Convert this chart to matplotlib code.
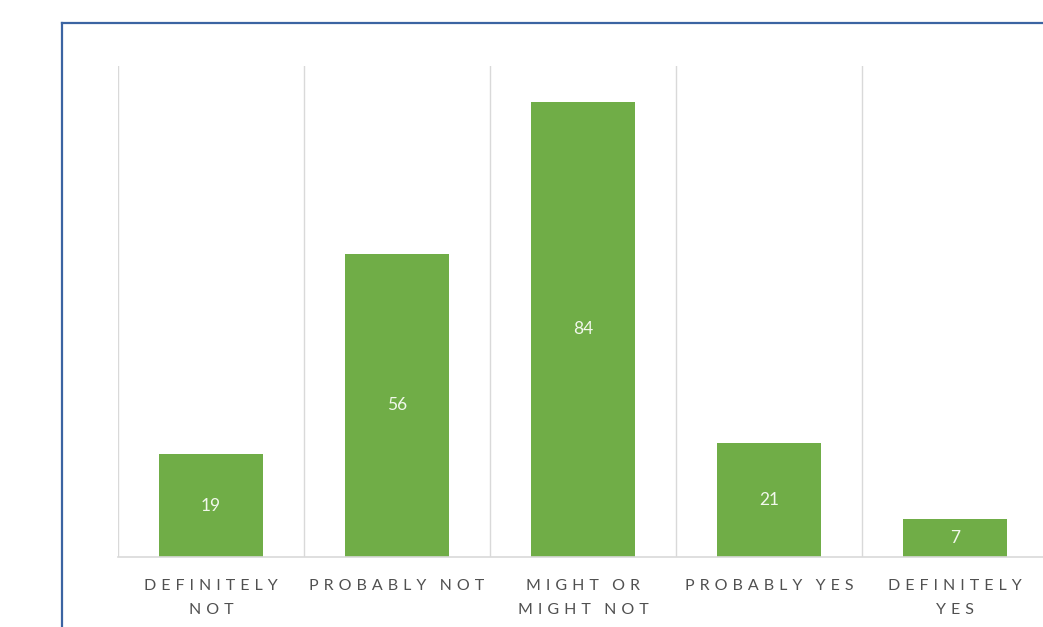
import matplotlib.pyplot as plt
from matplotlib.lines import Line2D

# survey responses
categories = ["DEFINITELY\nNOT", "PROBABLY NOT", "MIGHT OR\nMIGHT NOT",
              "PROBABLY YES", "DEFINITELY\nYES"]
counts = [19, 56, 84, 21, 7]

green = "#70ad47"
grid = "#d9d9d9"
label_grey = "#505050"
GAP = "\u2009\u2009\u200a"


def spaced(label):
    # wide letter spacing for the category labels
    lines = []
    for line in label.split("\n"):
        words = [GAP.join(w) for w in line.split(" ")]
        lines.append((GAP + "  ").join(words))
    return "\n".join(lines)


plt.rcParams["font.family"] = ["Lato", "DejaVu Sans"]

fig = plt.figure(figsize=(10.43, 6.27), dpi=100)
ax = fig.add_axes([0.1131, 0.1116, 0.8917, 0.7831])

x = range(len(categories))
bars = ax.bar(x, counts, width=0.56, color=green, zorder=2)

for b, v in zip(bars, counts):
    ax.text(b.get_x() + b.get_width() / 2, v / 2, str(v),
            ha="center", va="center", color="#f2f8ec", fontsize=12.5)

ax.set_xlim(-0.5, len(categories) - 0.5)
ax.set_ylim(0, 90.6)
ax.set_yticks([])

# vertical separators between categories
for i in range(len(categories) + 1):
    ax.axvline(i - 0.5, color=grid, linewidth=1, zorder=1)

for side in ["top", "right", "left"]:
    ax.spines[side].set_visible(False)
ax.spines["bottom"].set_color(grid)
ax.spines["bottom"].set_linewidth(1.2)

ax.set_xticks(list(x))
ax.set_xticklabels([spaced(c) for c in categories], color=label_grey,
                   fontsize=11.5, linespacing=1.85)
ax.tick_params(axis="x", length=0, pad=16)

# outer blue frame
fx0, fy0 = 61.5 / 1043, 1 - 22.5 / 627
fig.add_artist(Line2D([fx0, fx0], [-0.1, fy0], transform=fig.transFigure,
                      color="#3b64a2", linewidth=1.6))
fig.add_artist(Line2D([fx0, 1.1], [fy0, fy0], transform=fig.transFigure,
                      color="#3b64a2", linewidth=1.6))

fig.savefig("out.png", dpi=100)
